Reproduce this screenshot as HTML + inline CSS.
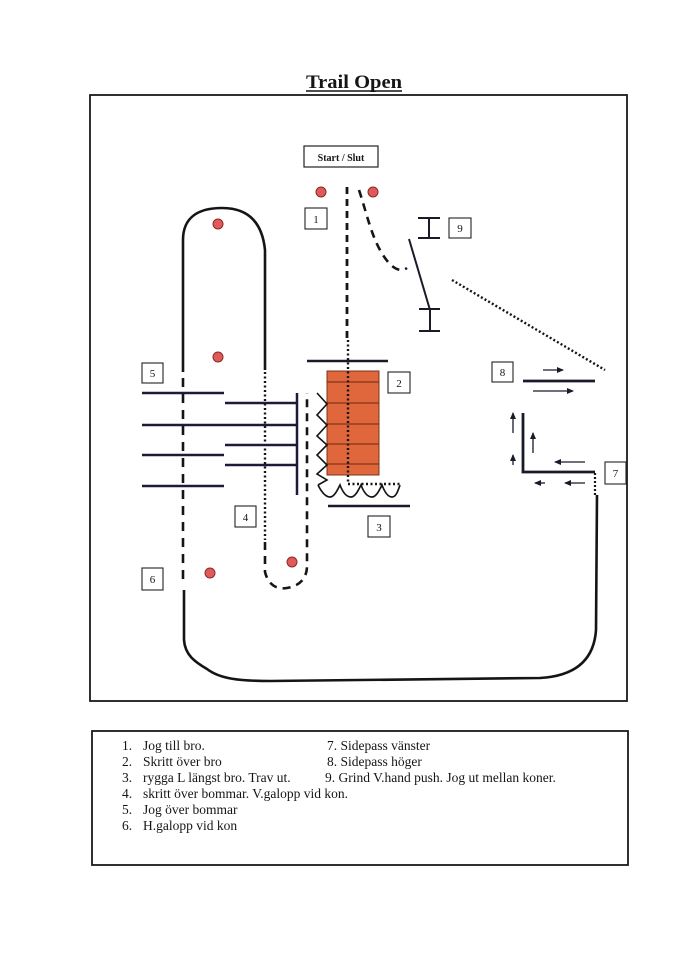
<!DOCTYPE html>
<html><head><meta charset="utf-8"><style>
html,body{margin:0;padding:0;background:#fff;}
svg{display:block;}
text{font-family:"Liberation Serif",serif;fill:#151515;}
</style></head><body>
<svg width="698" height="960" viewBox="0 0 698 960" xmlns="http://www.w3.org/2000/svg">
<defs>
<marker id="ah" markerWidth="8" markerHeight="8" refX="6" refY="4" orient="auto" markerUnits="userSpaceOnUse">
<path d="M0,1 L7,4 L0,7 Z" fill="#1a1a2a"/>
</marker>
</defs>
<rect width="698" height="960" fill="#fff"/>
<!-- title -->
<text x="354" y="88" font-size="19" font-weight="bold" text-anchor="middle" textLength="96" lengthAdjust="spacingAndGlyphs">Trail Open</text>
<line x1="306" y1="91" x2="402" y2="91" stroke="#151515" stroke-width="1.5"/>
<!-- main box -->
<rect x="90" y="95" width="537" height="606" fill="none" stroke="#1a1a1a" stroke-width="1.8"/>

<!-- start box -->
<rect x="304" y="146" width="74" height="21" fill="#fff" stroke="#222" stroke-width="1.2"/>
<text x="341" y="161" font-size="10" font-weight="bold" text-anchor="middle">Start / Slut</text>

<!-- number boxes -->
<g fill="#fff" stroke="#222" stroke-width="1.1">
<rect x="305" y="208" width="22" height="21"/>
<rect x="449" y="218" width="22" height="20"/>
<rect x="388" y="372" width="22" height="21"/>
<rect x="368" y="516" width="22" height="21"/>
<rect x="235" y="506" width="21" height="21"/>
<rect x="142" y="363" width="21" height="20"/>
<rect x="142" y="568" width="21" height="22"/>
<rect x="605" y="462" width="21" height="22"/>
<rect x="492" y="362" width="21" height="20"/>
</g>
<g font-size="11" text-anchor="middle">
<text x="316" y="223">1</text>
<text x="460" y="232">9</text>
<text x="399" y="387">2</text>
<text x="379" y="531">3</text>
<text x="245.5" y="521">4</text>
<text x="152.5" y="377">5</text>
<text x="152.5" y="583">6</text>
<text x="615.5" y="477">7</text>
<text x="502.5" y="376">8</text>
</g>

<!-- oval left/top/right solid -->
<path d="M183,372 L183,240 C183,216 200,208 222,208 C246,208 262,220 265,250 L265,370" fill="none" stroke="#151515" stroke-width="2.6"/>
<!-- left dashed -->
<line x1="183" y1="378" x2="183" y2="586" stroke="#151515" stroke-width="2.6" stroke-dasharray="9,7"/>
<!-- right dotted -->
<line x1="265" y1="372" x2="265" y2="540" stroke="#151515" stroke-width="2.4" stroke-dasharray="2,2.5"/>
<!-- dashed loop bottom -->
<path d="M265,542 L265,572 C268,584 276,590 287,588 C300,586 307,578 307,566 L307,393" fill="none" stroke="#151515" stroke-width="2.6" stroke-dasharray="8,6"/>

<!-- big bottom loop -->
<path d="M184,590 L184,640 C185,655 195,662 207,669 C220,679 240,681 270,681 L540,678 C575,676 594,660 596,630 L597,495" fill="none" stroke="#151515" stroke-width="2.6"/>
<line x1="595" y1="473" x2="595" y2="495" stroke="#151515" stroke-width="2.2" stroke-dasharray="2,2"/>

<!-- central route -->
<line x1="347" y1="187" x2="347" y2="340" stroke="#151515" stroke-width="2.8" stroke-dasharray="7,5"/>

<!-- bridge -->
<line x1="307" y1="361" x2="388" y2="361" stroke="#1a1a2a" stroke-width="2.5"/>
<rect x="327" y="371" width="52" height="104" fill="#e0673c" stroke="#7a3418" stroke-width="1"/>
<g stroke="#6a2a14" stroke-width="1">
<line x1="327" y1="382" x2="379" y2="382"/>
<line x1="327" y1="403" x2="379" y2="403"/>
<line x1="327" y1="424" x2="379" y2="424"/>
<line x1="327" y1="444" x2="379" y2="444"/>
<line x1="327" y1="464" x2="379" y2="464"/>
</g>
<path d="M348,340 L348,484 L400,484" fill="none" stroke="#151515" stroke-width="2.4" stroke-dasharray="2,2.5"/>
<!-- zigzags -->
<polyline points="317,393 327,404 317,415 327,425 317,436 327,445 317,455 327,465 317,474 327,480 318,485" fill="none" stroke="#151515" stroke-width="1.6"/>
<path d="M318,485 C322,493 326,497 330,497 C334,497 337,491 340,485 C343,493 347,497 351,497 C355,497 358,491 361,485 C364,493 368,497 372,497 C376,497 379,491 382,485 C385,493 388,497 392,497 C396,497 398,491 400,485" fill="none" stroke="#151515" stroke-width="1.7"/>
<line x1="328" y1="506" x2="410" y2="506" stroke="#1a1a2a" stroke-width="2.5"/>

<!-- poles -->
<g stroke="#1c1c3a" stroke-width="2.5">
<line x1="142" y1="393" x2="224" y2="393"/>
<line x1="142" y1="425" x2="297" y2="425"/>
<line x1="142" y1="455" x2="224" y2="455"/>
<line x1="142" y1="486" x2="224" y2="486"/>
<line x1="225" y1="403" x2="297" y2="403"/>
<line x1="225" y1="445" x2="297" y2="445"/>
<line x1="225" y1="465" x2="297" y2="465"/>
<line x1="297" y1="393" x2="297" y2="495"/>
</g>

<!-- start dashed curve -->
<path d="M359,190 C367,214 372,240 385,258 C392,268 400,273 407,268" fill="none" stroke="#151515" stroke-width="2.6" stroke-dasharray="8,6"/>
<!-- gate 9 -->
<g stroke="#1a1a2a" stroke-width="2">
<line x1="418" y1="218" x2="440" y2="218"/>
<line x1="418" y1="238" x2="440" y2="238"/>
<line x1="429" y1="218" x2="429" y2="238"/>
<line x1="419" y1="309" x2="440" y2="309"/>
<line x1="419" y1="331" x2="440" y2="331"/>
<line x1="430" y1="309" x2="430" y2="331"/>
<line x1="409" y1="239" x2="430" y2="310"/>
</g>
<!-- dotted diagonal -->
<line x1="452" y1="280" x2="605" y2="370" stroke="#151515" stroke-width="2.4" stroke-dasharray="2,2.2"/>

<!-- sidepass 8 -->
<line x1="523" y1="381" x2="595" y2="381" stroke="#1a1a2a" stroke-width="2.8"/>
<g stroke="#1a1a2a" stroke-width="1.3" marker-end="url(#ah)">
<line x1="543" y1="370" x2="563" y2="370"/>
<line x1="533" y1="391" x2="573" y2="391"/>
<line x1="585" y1="462" x2="555" y2="462"/>
<line x1="585" y1="483" x2="565" y2="483"/>
<line x1="545" y1="483" x2="535" y2="483"/>
<line x1="513" y1="433" x2="513" y2="413"/>
<line x1="513" y1="465" x2="513" y2="455"/>
<line x1="533" y1="453" x2="533" y2="433"/>
</g>
<!-- L shape 7 -->
<polyline points="523,413 523,472 595,472" fill="none" stroke="#1a1a2a" stroke-width="2.8"/>

<!-- cones -->
<g fill="#e05a5a" stroke="#8a2a2a" stroke-width="1">
<circle cx="321" cy="192" r="5"/>
<circle cx="373" cy="192" r="5"/>
<circle cx="218" cy="224" r="5"/>
<circle cx="218" cy="357" r="5"/>
<circle cx="292" cy="562" r="5"/>
<circle cx="210" cy="573" r="5"/>
</g>

<!-- legend -->
<rect x="92" y="731" width="536" height="134" fill="none" stroke="#1a1a1a" stroke-width="1.8"/>
<g font-size="13.5">
<text x="122" y="750">1.</text><text x="143" y="750">Jog till bro.</text>
<text x="122" y="766">2.</text><text x="143" y="766">Skritt över bro</text>
<text x="122" y="782">3.</text><text x="143" y="782">rygga L längst bro. Trav ut.</text>
<text x="122" y="798">4.</text><text x="143" y="798">skritt över bommar. V.galopp vid kon.</text>
<text x="122" y="814">5.</text><text x="143" y="814">Jog över bommar</text>
<text x="122" y="830">6.</text><text x="143" y="830">H.galopp vid kon</text>
<text x="327" y="750">7. Sidepass vänster</text>
<text x="327" y="766">8. Sidepass höger</text>
<text x="325" y="782">9. Grind V.hand push. Jog ut mellan koner.</text>
</g>
</svg>
</body></html>
